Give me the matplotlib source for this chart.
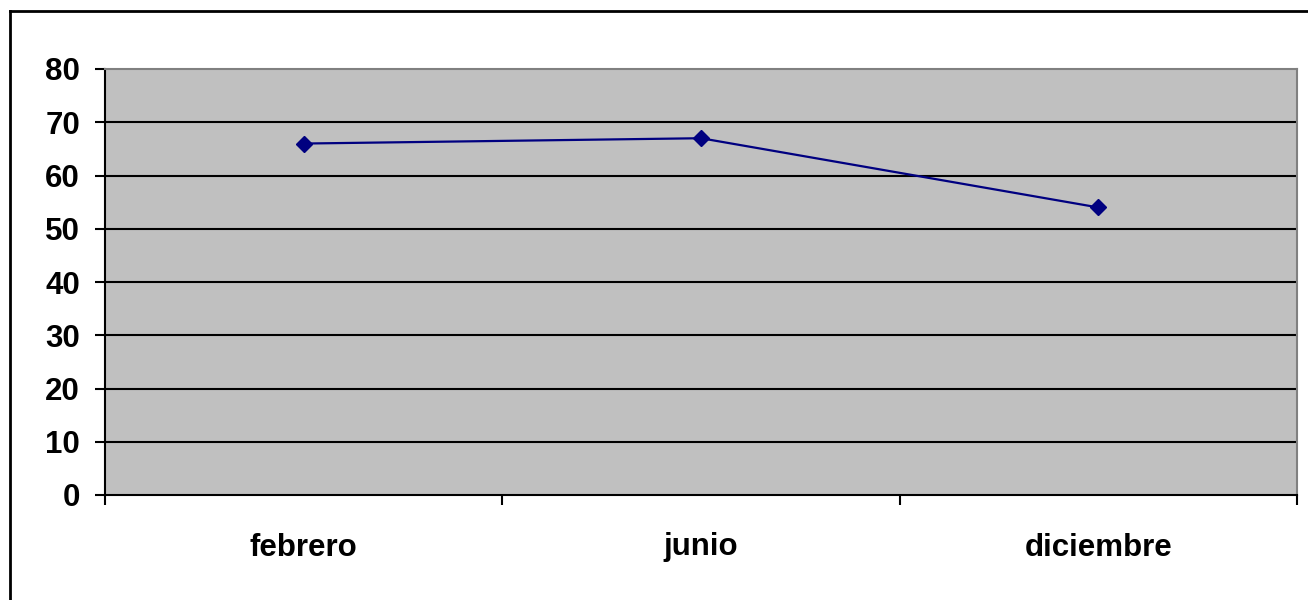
import matplotlib
matplotlib.use("Agg")
import matplotlib.pyplot as plt
from matplotlib.lines import Line2D

categories = ["febrero", "junio", "diciembre"]
values = [66, 67, 54]
yticks = [0, 10, 20, 30, 40, 50, 60, 70, 80]

W, H = 1308, 600
fig = plt.figure(figsize=(W / 100, H / 100), dpi=100)
fig.patch.set_facecolor("white")

ax = fig.add_axes([105 / W, 1 - 495 / H, (1297 - 105) / W, (495 - 69) / H])
ax.set_facecolor("#C0C0C0")

x = list(range(len(categories)))
ax.plot(x, values, color="#000080", linewidth=1.6, marker="D", markersize=8.5,
        markerfacecolor="#000080", markeredgecolor="#000080", zorder=3)

ax.set_xlim(-0.5, len(categories) - 0.5)
ax.set_ylim(0, 80)
ax.set_yticks(yticks)
ax.set_yticklabels([str(v) for v in yticks])
for v in yticks[1:-1]:
    ax.axhline(v, color="black", linewidth=1.5, zorder=1)

ax.set_xticks([i - 0.5 for i in range(len(categories) + 1)])
ax.set_xticklabels([])
ax.set_xticks(x, minor=True)
ax.set_xticklabels(categories, minor=True)

font = dict(family="Liberation Sans", weight="bold", size=22.5)
for lab in ax.get_yticklabels():
    lab.set_fontproperties(matplotlib.font_manager.FontProperties(**font))
for lab in ax.get_xticklabels(minor=True):
    lab.set_fontproperties(matplotlib.font_manager.FontProperties(**font))

ax.tick_params(axis="y", which="major", length=7, width=1.5, color="black", pad=11)
ax.tick_params(axis="x", which="major", length=7, width=1.5, color="black")
ax.tick_params(axis="x", which="minor", length=0, pad=27)

for s in ["left", "bottom"]:
    ax.spines[s].set_color("black")
    ax.spines[s].set_linewidth(1.5)
for s in ["top", "right"]:
    ax.spines[s].set_color("#808080")
    ax.spines[s].set_linewidth(1.5)

# outer chart border (left and top edges visible)
fig.add_artist(Line2D([9.5 / W, 9.5 / W], [-0.05, 1 - 11 / H], transform=fig.transFigure,
                      color="black", linewidth=2))
fig.add_artist(Line2D([9.5 / W, 1.05], [1 - 11 / H, 1 - 11 / H], transform=fig.transFigure,
                      color="black", linewidth=2))

fig.savefig("out.png", dpi=100, facecolor="white")
